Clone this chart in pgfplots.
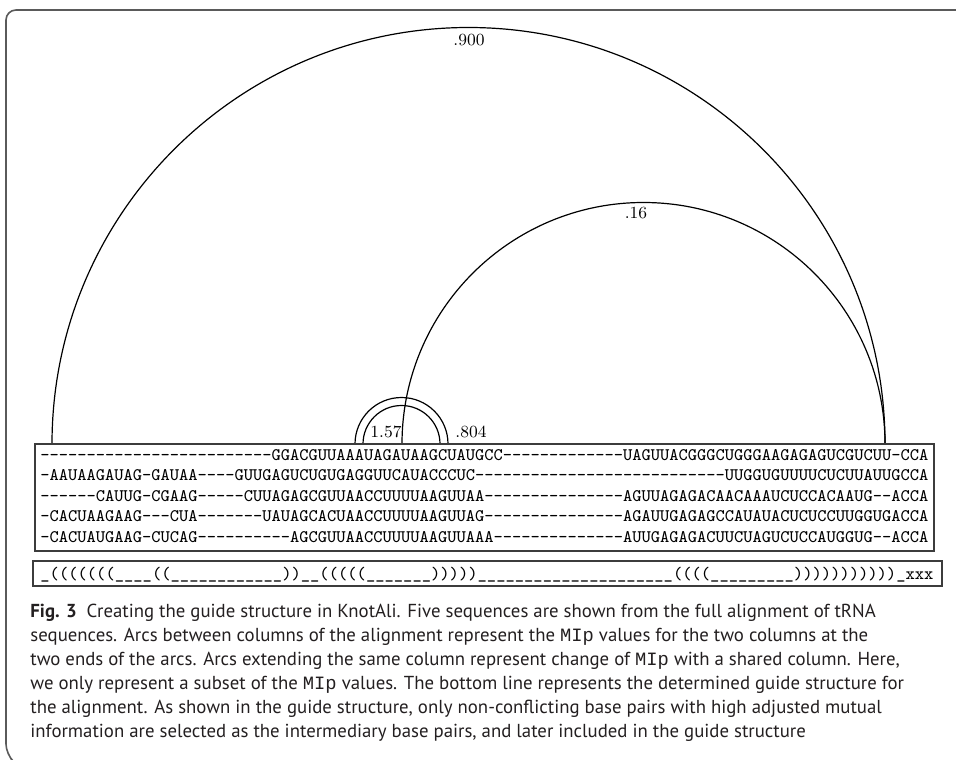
\documentclass[border=0pt]{standalone}
\usepackage{fontspec}
\usepackage{pgfplots}
\pgfplotsset{compat=1.18}
\newfontfamily\capfont{PT Sans}
\newfontfamily\mipfont{Liberation Mono}
\newcommand{\MIp}{{\mipfont MIp}}
\definecolor{framegray}{HTML}{5A5A5A}
\definecolor{boxgray}{HTML}{3C3C3C}
\definecolor{captext}{HTML}{231F20}

% one canvas unit = 0.5pt
\newcommand{\unitpt}{0.5pt}

\begin{document}
\begin{tikzpicture}
\path[use as bounding box] (0,0) rectangle (478pt,379.5pt);
\begin{axis}[
  at={(0,0)}, anchor=south west,
  width=478pt, height=379.5pt, scale only axis,
  xmin=0, xmax=956, ymin=0, ymax=759, y dir=reverse,
  axis lines=none, clip=false,
]
% page frame
\draw[framegray, line width=0.8pt, rounded corners=5pt]
  (axis cs:960,10) -- (axis cs:6,10) -- (axis cs:6,754) -- (axis cs:11,759);

% arcs between alignment columns: (left, right) in canvas units
\draw[black, line width=0.6pt] (axis cs:52,444)  arc[start angle=180, end angle=0, radius=416.5*\unitpt];
\draw[black, line width=0.6pt] (axis cs:402,444) arc[start angle=180, end angle=0, radius=241.5*\unitpt];
\draw[black, line width=0.6pt] (axis cs:355,444) arc[start angle=180, end angle=0, radius=46.5*\unitpt];
\draw[black, line width=0.6pt] (axis cs:363,444) arc[start angle=180, end angle=0, radius=38.5*\unitpt];

% MIp values
\node[font=\fontsize{8.5}{10}\selectfont, inner sep=0pt] at (axis cs:469,40) {.900};
\node[font=\fontsize{8.5}{10}\selectfont, inner sep=0pt] at (axis cs:636,213) {.16};
\node[font=\fontsize{8.5}{10}\selectfont, inner sep=0pt] at (axis cs:386,432) {1.57};
\node[font=\fontsize{8.5}{10}\selectfont, inner sep=0pt] at (axis cs:471,432) {.804};

% alignment box
\draw[boxgray, line width=0.6pt] (axis cs:35,444) rectangle (axis cs:934,551);
\begin{scope}[every node/.style={anchor=base west, inner sep=0pt, font=\ttfamily\fontsize{8.81}{10}\selectfont}]
\node at (axis cs:40,460) {-------------------------GGACGUUAAAUAGAUAAGCUAUGCC-------------UAGUUACGGGCUGGGAAGAGAGUCGUCUU-CCA};
\node at (axis cs:40,480) {-AAUAAGAUAG-GAUAA----GUUGAGUCUGUGAGGUUCAUACCCUC---------------------------UUGGUGUUUUCUCUUAUUGCCA};
\node at (axis cs:40,501) {------CAUUG-CGAAG-----CUUAGAGCGUUAACCUUUUAAGUUAA---------------AGUUAGAGACAACAAAUCUCCACAAUG--ACCA};
\node at (axis cs:40,521) {-CACUAAGAAG---CUA-------UAUAGCACUAACCUUUUAAGUUAG---------------AGAUUGAGAGCCAUAUACUCUCCUUGGUGACCA};
\node at (axis cs:40,542) {-CACUAUGAAG-CUCAG----------AGCGUUAACCUUUUAAGUUAAA--------------AUUGAGAGACUUCUAGUCUCCAUGGUG--ACCA};
\end{scope}

% guide structure box
\draw[boxgray, line width=0.6pt] (axis cs:33,561) rectangle (axis cs:942,586);
\node[anchor=base west, inner sep=0pt, font=\ttfamily\fontsize{8.86}{10}\selectfont] at (axis cs:40,579)
  {\_(((((((\_\_\_\_((\_\_\_\_\_\_\_\_\_\_\_\_))\_\_(((((\_\_\_\_\_\_\_)))))\_\_\_\_\_\_\_\_\_\_\_\_\_\_\_\_\_\_\_\_\_((((\_\_\_\_\_\_\_\_\_)))))))))))\_xxx};

% caption
\begin{scope}[every node/.style={anchor=base west, inner sep=0pt, text=captext, font=\capfont\fontsize{9.4}{11}\selectfont}]
\node at (axis cs:30,617) {\textbf{Fig. 3}\hspace{5pt}Creating the guide structure in KnotAli. Five sequences are shown from the full alignment of tRNA};
\node at (axis cs:30,641) {sequences. Arcs between columns of the alignment represent the \MIp\ values for the two columns at the};
\node at (axis cs:30,665) {two ends of the arcs. Arcs extending the same column represent change of \MIp\ with a shared column. Here,};
\node at (axis cs:30,689) {we only represent a subset of the \MIp\ values. The bottom line represents the determined guide structure for};
\node at (axis cs:30,713) {the alignment. As shown in the guide structure, only non-conflicting base pairs with high adjusted mutual};
\node at (axis cs:30,737) {information are selected as the intermediary base pairs, and later included in the guide structure};
\end{scope}
\end{axis}
\end{tikzpicture}
\end{document}
